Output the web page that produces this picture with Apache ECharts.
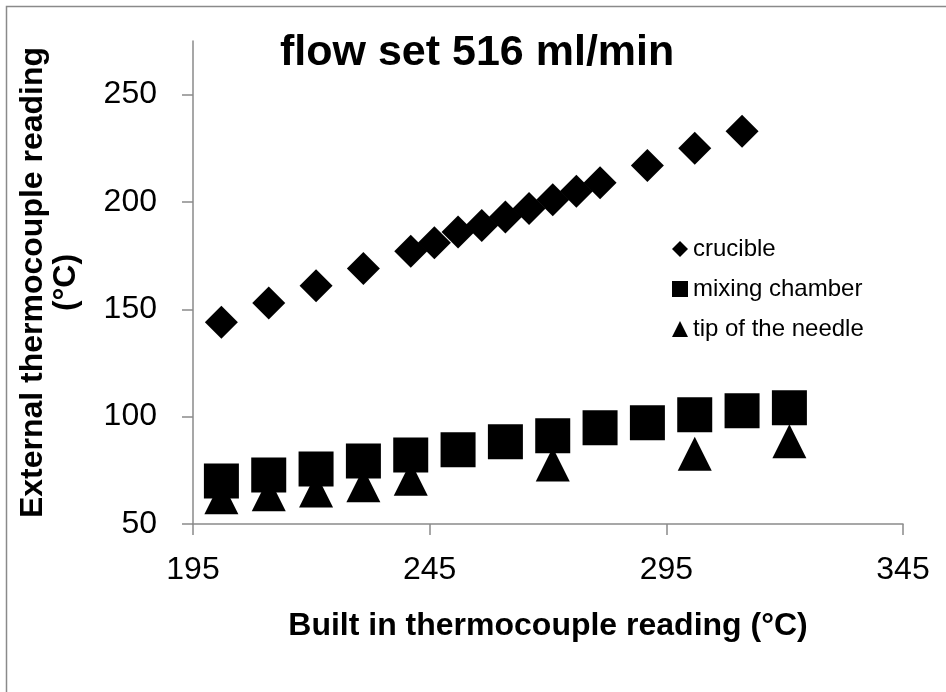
<!DOCTYPE html>
<html>
<head>
<meta charset="utf-8">
<script src="https://cdn.jsdelivr.net/npm/echarts@6/dist/echarts.min.js"></script>
<style>
  html, body { margin: 0; padding: 0; background: #fff; }
  #chart { width: 946px; height: 692px; }
</style>
</head>
<body>
<div id="chart"></div>
<script>
// Built-in vs external thermocouple readings at a flow of 516 ml/min
const crucibleX = [201, 211, 221, 231, 241, 246, 251, 256, 261, 266, 271, 276, 281, 291, 301, 311];
const crucibleY = [144, 153, 161, 169, 177, 181, 186, 189, 193, 197, 201, 205, 209, 217, 225, 233];

const mixingX = [201, 211, 221, 231, 241, 251, 261, 271, 281, 291, 301, 311, 321];
const mixingY = [70, 72.8, 75.6, 79.4, 82.2, 84.6, 88.3, 91.1, 94.8, 97.2, 100.9, 102.8, 104.2];

const needleX = [201, 211, 221, 231, 241, 271, 301, 321];
const needleY = [62.5, 63.9, 65.6, 68, 71.1, 77.7, 82.7, 88.6];

const seriesNames = ['crucible', 'mixing chamber', 'tip of the needle'];
const yTickValues = [50, 100, 150, 200, 250];

const FONT = 'Liberation Sans, Arial, sans-serif';
const AXIS_GRAY = '#8a8a8a';

const pairs = (xs, ys) => xs.map((x, i) => [x, ys[i]]);

const chart = echarts.init(document.getElementById('chart'), null, { renderer: 'canvas' });

chart.setOption({
  animation: false,
  backgroundColor: '#fff',
  title: {
    text: 'flow set 516 ml/min',
    left: 280,
    top: 32,
    padding: 0,
    textStyle: { fontFamily: FONT, fontWeight: 'bold', fontSize: 43, color: '#000' }
  },
  legend: {
    orient: 'vertical',
    left: 672,
    top: 237,
    padding: 0,
    itemWidth: 16,
    itemHeight: 16,
    itemGap: 16,
    data: seriesNames,
    textStyle: { fontFamily: FONT, fontSize: 24, lineHeight: 24, color: '#000' }
  },
  grid: { left: 193, right: 43, top: 41, bottom: 168 },
  xAxis: {
    type: 'value',
    min: 195,
    max: 345,
    interval: 50,
    name: 'Built in thermocouple reading (°C)',
    nameLocation: 'middle',
    nameGap: 86,
    nameTextStyle: { fontFamily: FONT, fontWeight: 'bold', fontSize: 32, color: '#000' },
    axisLine: { show: true, lineStyle: { color: AXIS_GRAY, width: 1.5 } },
    axisTick: { show: true, length: 11, lineStyle: { color: AXIS_GRAY, width: 1.5 } },
    axisLabel: { margin: 30, fontFamily: FONT, fontSize: 32, color: '#000' },
    splitLine: { show: false }
  },
  yAxis: {
    type: 'value',
    min: 50,
    max: 275,
    interval: 50,
    name: 'External thermocouple reading\n(°C)',
    nameLocation: 'middle',
    nameRotate: 90,
    nameGap: 110,
    nameTextStyle: { fontFamily: FONT, fontWeight: 'bold', fontSize: 32, lineHeight: 33, color: '#000', align: 'center' },
    axisLine: { show: true, lineStyle: { color: AXIS_GRAY, width: 1.5 } },
    axisTick: { show: true, length: 11, customValues: yTickValues, lineStyle: { color: AXIS_GRAY, width: 1.5 } },
    axisLabel: { margin: 36, customValues: yTickValues, fontFamily: FONT, fontSize: 32, color: '#000' },
    splitLine: { show: false }
  },
  graphic: [{
    type: 'rect',
    silent: true,
    z: -10,
    shape: { x: 6.5, y: 6.5, width: 1000, height: 1000 },
    style: { fill: 'none', stroke: AXIS_GRAY, lineWidth: 1.5 }
  }],
  series: [
    {
      name: seriesNames[0],
      type: 'scatter',
      symbol: 'diamond',
      symbolSize: 33,
      itemStyle: { color: '#000', opacity: 1 },
      data: pairs(crucibleX, crucibleY)
    },
    {
      name: seriesNames[1],
      type: 'scatter',
      symbol: 'rect',
      symbolSize: 35,
      itemStyle: { color: '#000', opacity: 1 },
      data: pairs(mixingX, mixingY)
    },
    {
      name: seriesNames[2],
      type: 'scatter',
      symbol: 'triangle',
      symbolSize: 34,
      itemStyle: { color: '#000', opacity: 1 },
      data: pairs(needleX, needleY)
    }
  ]
});
</script>
</body>
</html>
